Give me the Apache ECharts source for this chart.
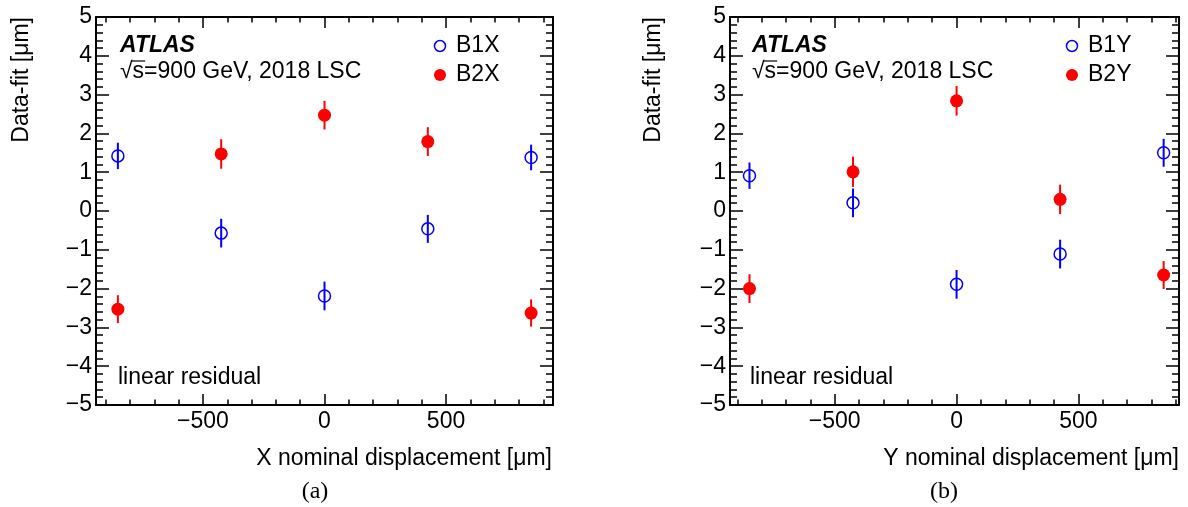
<!DOCTYPE html>
<html><head><meta charset="utf-8">
<script src="https://cdn.jsdelivr.net/npm/echarts@6/dist/echarts.min.js"></script>
<style>html,body{margin:0;padding:0;background:#fff}#c{width:1188px;height:507px}</style>
</head><body><div id="c"></div>
<script>
// ---- data ----
const displacement = [-850, -425, 0, 425, 850];
const b1x = [1.42, -0.57, -2.19, -0.46, 1.38];
const b1xErr = [0.34, 0.37, 0.37, 0.36, 0.33];
const b2x = [-2.53, 1.47, 2.47, 1.79, -2.63];
const b2xErr = [0.36, 0.38, 0.37, 0.37, 0.35];
const b1y = [0.91, 0.21, -1.89, -1.11, 1.50];
const b1yErr = [0.34, 0.37, 0.37, 0.37, 0.36];
const b2y = [-2.00, 1.01, 2.84, 0.30, -1.65];
const b2yErr = [0.37, 0.39, 0.38, 0.38, 0.36];
const xMajorTicks = [-500, 0, 500];
const xMinorTicks = [-900, -800, -700, -600, -400, -300, -200, -100, 100, 200, 300, 400, 600, 700, 800, 900];
const xRangeA = [-940, 940];
const xRangeB = [-930, 913];
const yRange = [-5, 5];

const FONT = '"Liberation Sans", Arial, Helvetica, sans-serif';
const FS = 23;
const minus = v => (v < 0 ? '\u2212' + Math.abs(v) : String(v));

const chart = echarts.init(document.getElementById('c'), null, {renderer: 'canvas'});

const grids = [
  {left: 96, top: 17, width: 457, height: 388},
  {left: 730, top: 17, width: 449, height: 388}
];

function xAxes(gi, range) {
  const base = {type: 'value', gridIndex: gi, min: range[0], max: range[1], splitLine: {show: false}};
  const line = {show: true, onZero: false, lineStyle: {color: '#000', width: 2}};
  const noLine = {show: false, onZero: false};
  return [
    Object.assign({}, base, {position: 'bottom', axisLine: line,
      axisTick: {show: true, inside: true, length: 11, customValues: xMajorTicks, lineStyle: {color: '#000', width: 1.5}},
      axisLabel: {show: true, customValues: xMajorTicks, formatter: minus, margin: 5, color: '#000', fontSize: FS, fontFamily: FONT}}),
    Object.assign({}, base, {position: 'bottom', axisLine: noLine,
      axisTick: {show: true, inside: true, length: 5.5, customValues: xMinorTicks, lineStyle: {color: '#000', width: 1.5}},
      axisLabel: {show: false}}),
    Object.assign({}, base, {position: 'top', axisLine: line,
      axisTick: {show: true, inside: true, length: 11, customValues: xMajorTicks, lineStyle: {color: '#000', width: 1.5}},
      axisLabel: {show: false}}),
    Object.assign({}, base, {position: 'top', axisLine: noLine,
      axisTick: {show: true, inside: true, length: 5.5, customValues: xMinorTicks, lineStyle: {color: '#000', width: 1.5}},
      axisLabel: {show: false}})
  ];
}
function yAxes(gi) {
  const base = {type: 'value', gridIndex: gi, min: yRange[0], max: yRange[1], interval: 1, splitLine: {show: false},
    axisLine: {show: true, onZero: false, lineStyle: {color: '#000', width: 2}},
    axisTick: {show: true, inside: true, length: 13, lineStyle: {color: '#000', width: 1.5}},
    minorTick: {show: true, splitNumber: 5, length: 7, lineStyle: {color: '#000', width: 1.5}},
    minorSplitLine: {show: false}};
  return [
    Object.assign({}, base, {position: 'left',
      axisLabel: {show: true, formatter: minus, margin: 4, color: '#000', fontSize: FS, fontFamily: FONT}}),
    Object.assign({}, base, {position: 'right', axisLabel: {show: false}})
  ];
}

function errSeries(xi, yi, vals, errs, color) {
  return {
    type: 'custom', xAxisIndex: xi, yAxisIndex: yi, silent: true, z: 2,
    data: displacement.map((x, i) => [x, vals[i] - errs[i], vals[i] + errs[i]]),
    encode: {x: 0, y: [1, 2]},
    renderItem: (params, api) => {
      const lo = api.coord([api.value(0), api.value(1)]);
      const hi = api.coord([api.value(0), api.value(2)]);
      return {type: 'line', shape: {x1: lo[0], y1: lo[1], x2: hi[0], y2: hi[1]},
        style: {stroke: color, lineWidth: 2}};
    }
  };
}
function openSeries(name, xi, yi, vals) {
  return {name, type: 'scatter', xAxisIndex: xi, yAxisIndex: yi, z: 3, symbol: 'circle', symbolSize: 12,
    silent: true, emphasis: {disabled: true},
    data: displacement.map((x, i) => [x, vals[i]]),
    itemStyle: {color: 'rgba(0,0,0,0)', borderColor: '#0000ff', borderWidth: 1.5, opacity: 1}};
}
function filledSeries(name, xi, yi, vals) {
  return {name, type: 'scatter', xAxisIndex: xi, yAxisIndex: yi, z: 3, symbol: 'circle', symbolSize: 13,
    silent: true, emphasis: {disabled: true},
    data: displacement.map((x, i) => [x, vals[i]]),
    itemStyle: {color: '#ff0000', opacity: 1}};
}

// measure sqrt overline
const mctx = document.createElement('canvas').getContext('2d');
mctx.font = FS + 'px ' + FONT;
const wRad = mctx.measureText('\u221A').width;
const wRadS = mctx.measureText('\u221As').width;

function txt(x, y, s, opts) {
  return {type: 'text', x, y, silent: true, style: Object.assign({text: s, fill: '#000', font: FS + 'px ' + FONT,
    textAlign: 'left', textVerticalAlign: 'middle'}, opts || {})};
}
function panelGraphics(p) {
  const g = [];
  g.push(txt(p.atlasX, 46, 'ATLAS', {font: 'italic bold ' + FS + 'px ' + FONT}));
  g.push(txt(p.atlasX, 72, '\u221As=900 GeV, 2018 LSC'));
  g.push({type: 'line', silent: true, shape: {x1: p.atlasX + wRad - 1, y1: 61, x2: p.atlasX + wRadS + 1, y2: 61},
    style: {stroke: '#000', lineWidth: 1.2}});
  g.push({type: 'circle', silent: true, shape: {cx: p.legX, cy: 46, r: 5.5}, style: {fill: 'none', stroke: '#0000ff', lineWidth: 1.5}});
  g.push({type: 'circle', silent: true, shape: {cx: p.legX, cy: 75, r: 6}, style: {fill: '#ff0000'}});
  g.push(txt(p.legX + 16, 46, p.leg1));
  g.push(txt(p.legX + 16, 75, p.leg2));
  g.push(txt(p.linX, 378, 'linear residual'));
  g.push(txt(p.xTitleX, 459, p.xTitle, {textAlign: 'right'}));
  g.push(txt(p.yTitleX, 17, 'Data-fit [\u03BCm]', {textAlign: 'right'}));
  g[g.length - 1].rotation = Math.PI / 2;
  g.push(txt(p.capX, 492, p.cap, {textAlign: 'center', font: '24px "Liberation Serif", "Times New Roman", serif'}));
  return g;
}

const option = {
  animation: false,
  backgroundColor: '#fff',
  grid: grids,
  xAxis: xAxes(0, xRangeA).concat(xAxes(1, xRangeB)),
  yAxis: yAxes(0).concat(yAxes(1)),
  series: [
    errSeries(0, 0, b1x, b1xErr, '#0000ff'),
    errSeries(0, 0, b2x, b2xErr, '#ff0000'),
    openSeries('B1X', 0, 0, b1x),
    filledSeries('B2X', 0, 0, b2x),
    errSeries(4, 2, b1y, b1yErr, '#0000ff'),
    errSeries(4, 2, b2y, b2yErr, '#ff0000'),
    openSeries('B1Y', 4, 2, b1y),
    filledSeries('B2Y', 4, 2, b2y)
  ],
  graphic: panelGraphics({atlasX: 120, legX: 440, leg1: 'B1X', leg2: 'B2X', linX: 118, xTitleX: 552,
      xTitle: 'X nominal displacement [\u03BCm]', yTitleX: 22, capX: 315, cap: '(a)'})
    .concat(panelGraphics({atlasX: 752, legX: 1072, leg1: 'B1Y', leg2: 'B2Y', linX: 750, xTitleX: 1179,
      xTitle: 'Y nominal displacement [\u03BCm]', yTitleX: 654, capX: 944, cap: '(b)'}))
};
chart.setOption(option);
</script></body></html>
